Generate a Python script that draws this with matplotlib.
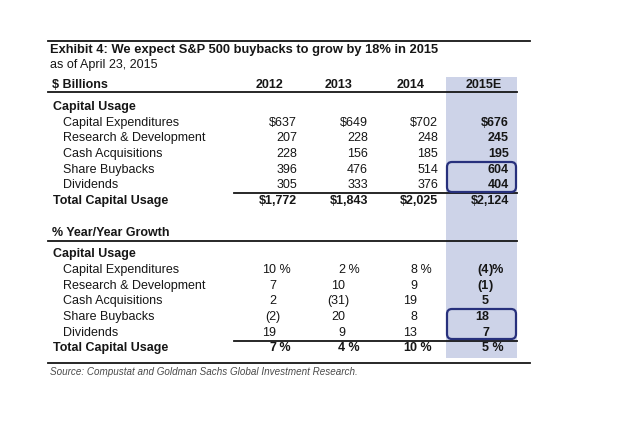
import matplotlib
matplotlib.use("Agg")
import matplotlib.pyplot as plt
import matplotlib.patches as mpatches

plt.rcParams["font.family"] = ["Liberation Sans", "DejaVu Sans"]

# data
title = "Exhibit 4: We expect S&P 500 buybacks to grow by 18% in 2015"
subtitle = "as of April 23, 2015"
source = "Source: Compustat and Goldman Sachs Global Investment Research."
years = ["2012", "2013", "2014", "2015E"]
items = ["Capital Expenditures", "Research & Development", "Cash Acquisitions",
         "Share Buybacks", "Dividends"]

usage_2012 = ["$637", "207", "228", "396", "305"]
usage_2013 = ["$649", "228", "156", "476", "333"]
usage_2014 = ["$702", "248", "185", "514", "376"]
usage_2015 = ["$676", "245", "195", "604", "404"]
usage_total = ["$1,772", "$1,843", "$2,025", "$2,124"]

# growth cells split as (number part, suffix part) so digits line up
growth_2012 = [("10", " %"), ("7", ""), ("2", ""), ("(2", ")"), ("19", "")]
growth_2013 = [("2", " %"), ("10", ""), ("(31", ")"), ("20", ""), ("9", "")]
growth_2014 = [("8", " %"), ("9", ""), ("19", ""), ("8", ""), ("13", "")]
growth_2015 = [("(4", ")%"), ("(1", ")"), ("5", ""), ("18", ""), ("7", "")]
growth_total = [("7", " %"), ("4", " %"), ("10", " %"), ("5", " %")]

W, H = 640, 436
fig = plt.figure(figsize=(W / 100, H / 100), dpi=100)
ax = fig.add_axes([0, 0, 1, 1])
ax.set_xlim(0, W); ax.set_ylim(H, 0); ax.axis("off")

FS = 9.0
SHADE = "#cdd3e8"; BOX = "#27307c"; INK = "#161616"


def put(x, y, s, ha="left", bold=False, size=FS):
    ax.text(x, y, s, fontsize=size, ha=ha, va="center", color=INK,
            fontweight="bold" if bold else "normal")


# shaded 2015E column
ax.add_patch(mpatches.Rectangle((446, 77), 71, 281, facecolor=SHADE, edgecolor="none", zorder=0))

# rules
ax.plot([48, 530], [41, 41], color=INK, lw=1.3)
ax.plot([48, 517], [92, 92], color=INK, lw=1.3)
ax.plot([234, 517], [193, 193], color=INK, lw=1.3)
ax.plot([48, 517], [241, 241], color=INK, lw=1.3)
ax.plot([234, 517], [341, 341], color=INK, lw=1.3)
ax.plot([48, 530], [363, 363], color=INK, lw=1.3)

put(50, 50, title, bold=True, size=9.3)
put(50, 65, subtitle)
put(52, 85, "$ Billions", bold=True)

head_x = [270, 339, 411, 484]
for x, y in zip(head_x, years):
    put(x, 85, y, ha="center", bold=True)

# section 1: $ billions
val_x = [297, 368, 438, 509]
cols = [usage_2012, usage_2013, usage_2014, usage_2015]
row_y = [123, 138, 154, 170, 185]
put(53, 107, "Capital Usage", bold=True)
for i, lab in enumerate(items):
    put(63, row_y[i], lab)
for j, col in enumerate(cols):
    for i, v in enumerate(col):
        put(val_x[j], row_y[i], v, ha="right", bold=(j == 3))
put(53, 201, "Total Capital Usage", bold=True)
for j, v in enumerate(usage_total):
    put(val_x[j], 201, v, ha="right", bold=True)

# section 2: growth
put(52, 233, "% Year/Year Growth", bold=True)
put(53, 254, "Capital Usage", bold=True)
num_x = [276, 345, 417, 489]
gcols = [growth_2012, growth_2013, growth_2014, growth_2015]
grow_y = [270, 286, 301, 317, 333]
for i, lab in enumerate(items):
    put(63, grow_y[i], lab)
for j, col in enumerate(gcols):
    for i, (num, suf) in enumerate(col):
        put(num_x[j], grow_y[i], num, ha="right", bold=(j == 3))
        if suf:
            put(num_x[j], grow_y[i], suf, bold=(j == 3))
put(53, 348, "Total Capital Usage", bold=True)
for j, (num, suf) in enumerate(growth_total):
    put(num_x[j], 348, num, ha="right", bold=True)
    put(num_x[j], 348, suf, bold=True)

# highlight boxes around buybacks / dividends 2015E
for y0, y1 in [(162, 192), (309, 339)]:
    ax.add_patch(mpatches.FancyBboxPatch((447, y0), 69, y1 - y0,
                 boxstyle="round,pad=0,rounding_size=5", facecolor="none",
                 edgecolor=BOX, lw=1.6, zorder=3))

ax.text(50, 372, source, fontsize=7.1, style="italic", va="center", color="#4a4a4a")

fig.savefig("out.png", dpi=100, facecolor="white")
